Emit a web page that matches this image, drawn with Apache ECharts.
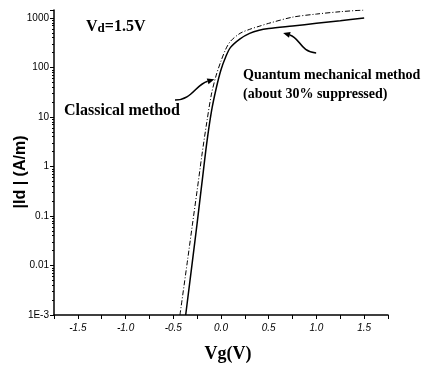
<!DOCTYPE html>
<html>
<head>
<meta charset="utf-8">
<script src="https://cdn.jsdelivr.net/npm/echarts@6/dist/echarts.min.js"></script>
<style>html,body{margin:0;padding:0;background:#fff}#c{width:423px;height:370px}</style>
</head>
<body>
<div id="c"></div>
<script>
// Classical method (dash-dot curve)
const vgClassical = [-0.43, -0.35, -0.30, -0.25, -0.20, -0.15, -0.10, -0.05, 0.00, 0.05, 0.10, 0.20, 0.30, 0.40, 0.50, 0.75, 1.00, 1.25, 1.50];
const idClassical = [0.001, 0.013, 0.066, 0.33, 1.7, 7.6, 29, 70, 135, 235, 340, 490, 590, 680, 780, 1040, 1200, 1340, 1450];
// Quantum mechanical method (solid curve)
const vgQuantum = [-0.37, -0.30, -0.25, -0.20, -0.15, -0.10, -0.05, 0.00, 0.05, 0.10, 0.20, 0.30, 0.40, 0.50, 0.75, 1.00, 1.25, 1.50];
const idQuantum = [0.001, 0.012, 0.072, 0.46, 2.9, 13, 38, 90, 165, 255, 380, 490, 565, 610, 690, 780, 880, 1000];
// Axis ticks
const xTickLabels = ['-1.5', '-1.0', '-0.5', '0.0', '0.5', '1.0', '1.5'];
const yTickLabels = {0.001: '1E-3', 0.01: '0.01', 0.1: '0.1', 1: '1', 10: '10', 100: '100', 1000: '1000'};
// Annotation arrows in data coordinates [Vg, Id]: tail, ctrl1, ctrl2, head
const arrowClassical = [[-0.482, 22], [-0.304, 22], [-0.272, 44], [-0.07, 58]];
const arrowQuantum = [[0.997, 196], [0.83, 206], [0.83, 394], [0.651, 498]];

const serif = '"Liberation Serif", "DejaVu Serif", serif';
const sans = '"Liberation Sans", Arial, sans-serif';

const chart = echarts.init(document.getElementById('c'));
const zip = (a, b) => a.map((v, i) => [v, b[i]]);

chart.setOption({
  backgroundColor: '#fff',
  animation: false,
  grid: {left: 54, right: 35, top: 10, bottom: 55},
  xAxis: {
    type: 'value', min: -1.75, max: 1.75, interval: 0.25,
    name: 'Vg(V)', nameLocation: 'middle', nameGap: 30,
    nameTextStyle: {fontFamily: serif, fontWeight: 'bold', fontSize: 18, color: '#000', padding: [0, 0, 0, 14]},
    axisLine: {onZero: false, lineStyle: {color: '#000', width: 1.5}},
    axisTick: {show: true, length: 4, lineStyle: {color: '#000', width: 1}},
    axisLabel: {
      color: '#000', fontFamily: sans, fontStyle: 'italic', fontSize: 10, margin: 8,
      formatter: v => {
        const s = (Math.round(v * 10) / 10).toFixed(1);
        return xTickLabels.indexOf(s) >= 0 && Math.abs(v * 2 - Math.round(v * 2)) < 1e-6 ? s : '';
      }
    },
    splitLine: {show: false}
  },
  yAxis: {
    type: 'log', logBase: 10, min: 0.001, max: 1450,
    axisLine: {show: true, onZero: false, lineStyle: {color: '#000', width: 1.5}},
    axisTick: {show: true, length: 4, lineStyle: {color: '#000'}},
    minorTick: {show: true, splitNumber: 9, length: 2, lineStyle: {color: '#000'}},
    axisLabel: {
      color: '#000', fontFamily: sans, fontSize: 10, margin: 5, showMaxLabel: false,
      formatter: v => {
        for (const k in yTickLabels) { if (Math.abs(Math.log10(v) - Math.log10(+k)) < 1e-6) return yTickLabels[k]; }
        return '';
      }
    },
    splitLine: {show: false}, minorSplitLine: {show: false}
  },
  series: [
    {
      name: 'Classical method', type: 'line', smooth: 0.3, symbol: 'none',
      data: zip(vgClassical, idClassical),
      lineStyle: {color: '#000', width: 1, type: [5, 2, 1, 2]}
    },
    {
      name: 'Quantum mechanical method', type: 'line', smooth: 0.3, symbol: 'none',
      data: zip(vgQuantum, idQuantum),
      lineStyle: {color: '#000', width: 1.5}
    }
  ]
});

function arrowGraphic(pts) {
  const p = pts.map(d => chart.convertToPixel({xAxisIndex: 0, yAxisIndex: 0}, d));
  const [t, c1, c2, h] = p;
  const ang = Math.atan2(h[1] - c2[1], h[0] - c2[0]);
  const L = 7, W = 3;
  const bx = h[0] - L * Math.cos(ang), by = h[1] - L * Math.sin(ang);
  const nx = -Math.sin(ang) * W, ny = Math.cos(ang) * W;
  return [
    {type: 'bezierCurve', shape: {x1: t[0], y1: t[1], cpx1: c1[0], cpy1: c1[1], cpx2: c2[0], cpy2: c2[1], x2: bx, y2: by},
     style: {stroke: '#000', lineWidth: 1.6, fill: null}},
    {type: 'polygon', shape: {points: [h, [bx + nx, by + ny], [bx - nx, by - ny]]}, style: {fill: '#000'}}
  ];
}

chart.setOption({
  graphic: [
    {type: 'text', x: 21, y: 172, rotation: Math.PI / 2, style: {
      text: '|Id | (A/m)', font: 'bold 16px ' + sans, fill: '#000', align: 'center', verticalAlign: 'middle'}},
    {type: 'text', left: 86, top: 19, style: {
      text: 'V{s|d}=1.5V', font: 'bold 16px ' + serif, fill: '#000',
      rich: {s: {fontFamily: serif, fontWeight: 'bold', fontSize: 13, fill: '#000', padding: [3, 0, 0, 0]}}}},
    {type: 'text', left: 64, top: 103, style: {text: 'Classical method', font: 'bold 16px ' + serif, fill: '#000'}},
    {type: 'text', left: 243, top: 66, style: {text: 'Quantum mechanical method\n(about 30% suppressed)', font: 'bold 14px ' + serif, fill: '#000', lineHeight: 19}},
    ...arrowGraphic(arrowClassical),
    ...arrowGraphic(arrowQuantum)
  ]
});
</script>
</body>
</html>
